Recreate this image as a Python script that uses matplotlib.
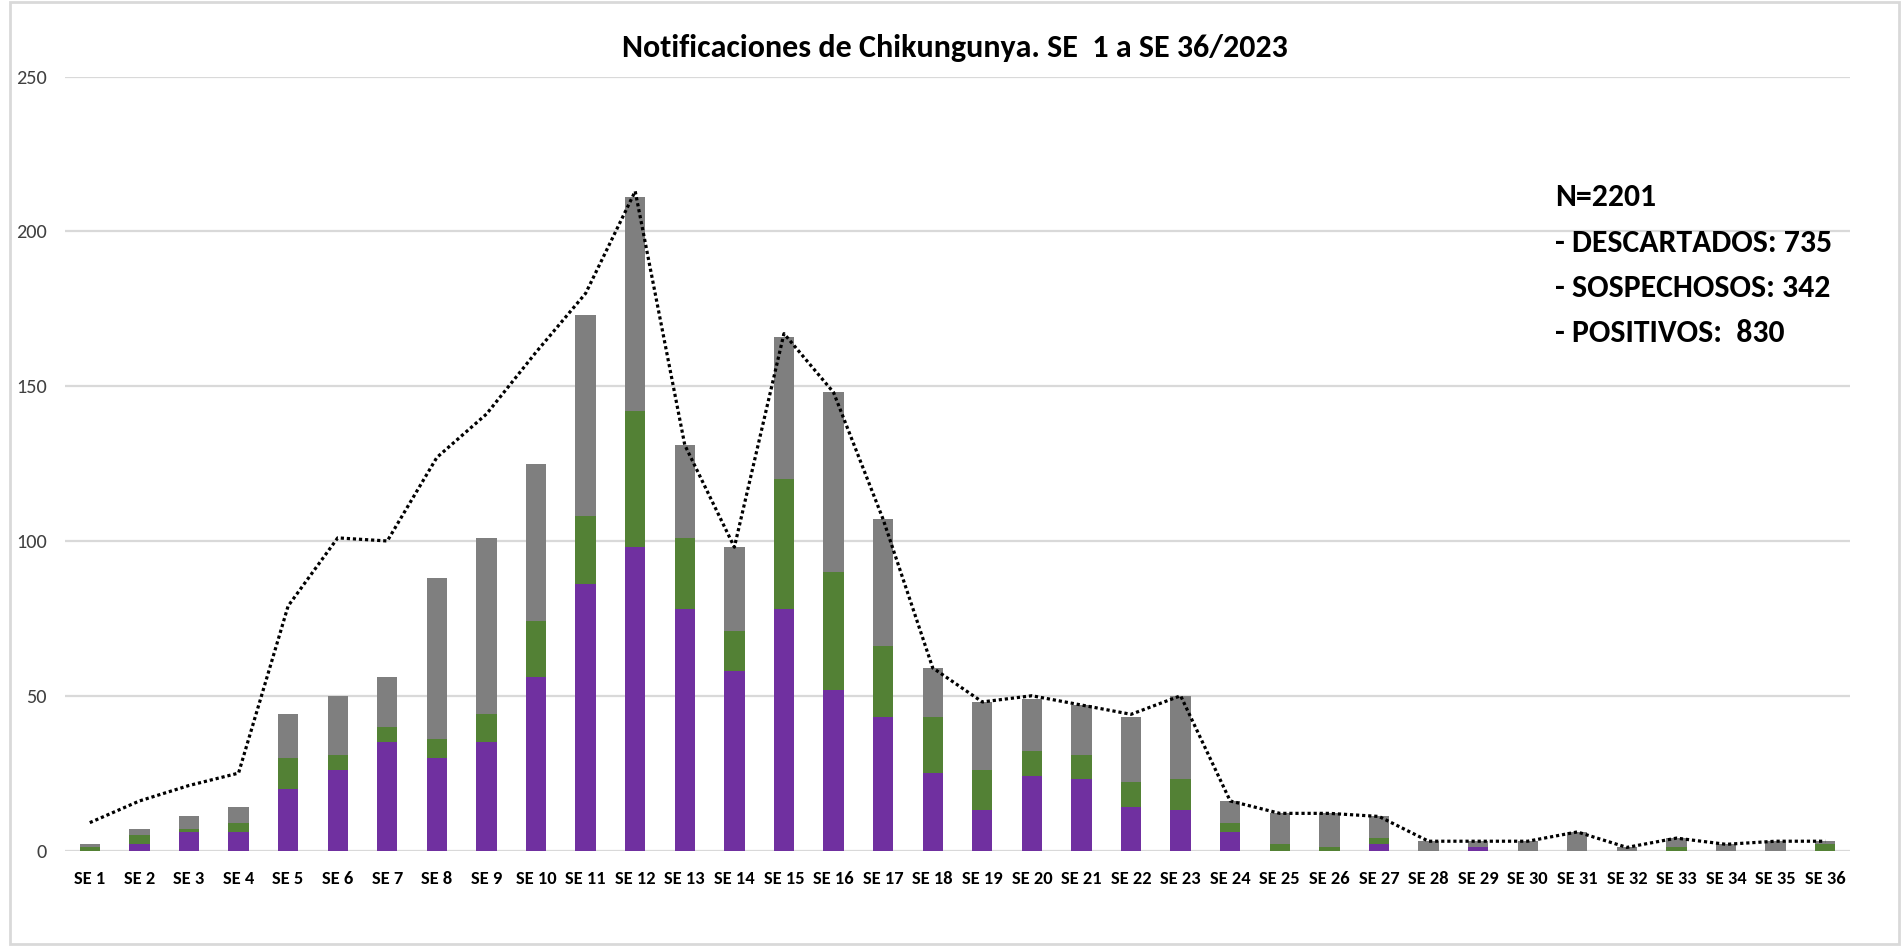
import matplotlib
matplotlib.use("Agg")
import matplotlib.pyplot as plt
from matplotlib.patches import Rectangle

# ---------------- data ----------------
weeks = [f"SE {i}" for i in range(1, 37)]
positivos = [0, 2, 6, 6, 20, 26, 35, 30, 35, 56, 86, 98, 78, 58, 78, 52, 43, 25,
             13, 24, 23, 14, 13, 6, 0, 0, 2, 0, 1, 0, 0, 0, 0, 0, 0, 0]
sospechosos = [1, 3, 1, 3, 10, 5, 5, 6, 9, 18, 22, 44, 23, 13, 42, 38, 23, 18,
               13, 8, 8, 8, 10, 3, 2, 1, 2, 0, 0, 0, 0, 0, 1, 0, 0, 2]
descartados = [1, 2, 4, 5, 14, 19, 16, 52, 57, 51, 65, 69, 30, 27, 46, 58, 41, 16,
               22, 17, 16, 21, 27, 7, 10, 11, 7, 3, 2, 3, 6, 1, 3, 2, 3, 1]
notificaciones = [9, 16, 21, 25, 79, 101, 100, 127, 141, 161, 180, 213, 131, 98,
                  167, 148, 107, 59, 48, 50, 47, 44, 50, 16, 12, 12, 11, 3, 3, 3,
                  6, 1, 4, 2, 3, 3]
yticks = [0, 50, 100, 150, 200, 250]
title = "Notificaciones de Chikungunya. SE  1 a SE 36/2023"
info_lines = ["N=2201", "- DESCARTADOS: 735", "- SOSPECHOSOS: 342", "- POSITIVOS:  830"]

plt.rcParams["font.family"] = ["Carlito", "DejaVu Sans"]

C_POS = "#7030A0"
C_SOS = "#538135"
C_DES = "#7F7F7F"
C_GRID = "#D9D9D9"

W, H = 1901, 946
fig = plt.figure(figsize=(W / 100, H / 100), dpi=100)
fig.patch.set_facecolor("white")
renderer = fig.canvas.get_renderer()


def size_for(text, target_px, weight="normal", base=20):
    t = fig.text(0, 0, text, fontsize=base, fontweight=weight)
    w = t.get_window_extent(renderer).width
    t.remove()
    return base * target_px / w


# frame of chart area
fig.add_artist(Rectangle((10 / W, 1 - 944 / H), (1899 - 10) / W, (944 - 2) / H,
                         transform=fig.transFigure, fill=False,
                         edgecolor=C_GRID, lw=2))

ax = fig.add_axes([65 / W, 1 - 850.5 / H, (1850 - 65) / W, (850.5 - 76.7) / H])
x = list(range(len(weeks)))
bw = 0.41
ax.bar(x, positivos, width=bw, color=C_POS, zorder=2)
ax.bar(x, sospechosos, width=bw, bottom=positivos, color=C_SOS, zorder=2)
bottom3 = [p + s for p, s in zip(positivos, sospechosos)]
ax.bar(x, descartados, width=bw, bottom=bottom3, color=C_DES, zorder=2)
ax.plot(x, notificaciones, color="black", lw=2.3, linestyle=(0, (1, 0.9)), zorder=3)

ax.set_xlim(-0.5, len(weeks) - 0.5)
ax.set_ylim(0, 250)
ax.set_yticks(yticks)
ax.set_yticklabels([str(v) for v in yticks])
ax.set_xticks(x)
xt_size = size_for("SE 30", 36.5, "bold") * 1.12
yt_size = size_for("250", 28) * 1.1
ax.set_xticklabels(weeks, fontweight="bold", fontsize=xt_size)
ax.tick_params(axis="x", length=0, pad=15)
ax.tick_params(axis="y", length=0, pad=13, labelsize=yt_size, labelcolor="#404040")
for s in ax.spines.values():
    s.set_visible(False)
ax.grid(axis="y", color=C_GRID, lw=1.6, zorder=0)
ax.set_axisbelow(True)

fig.text(955 / W, 1 - 48 / H, title, ha="center", va="center",
         fontsize=size_for(title, 616, "bold") * 1.08, fontweight="bold")
info_size = size_for(info_lines[1], 257, "bold") * 1.08
ys = [197, 243, 288, 333]
for t, yy in zip(info_lines, ys):
    fig.text(1555 / W, 1 - yy / H, t, ha="left", va="center",
             fontsize=info_size, fontweight="bold")

fig.savefig("out.png", dpi=100, facecolor="white")
